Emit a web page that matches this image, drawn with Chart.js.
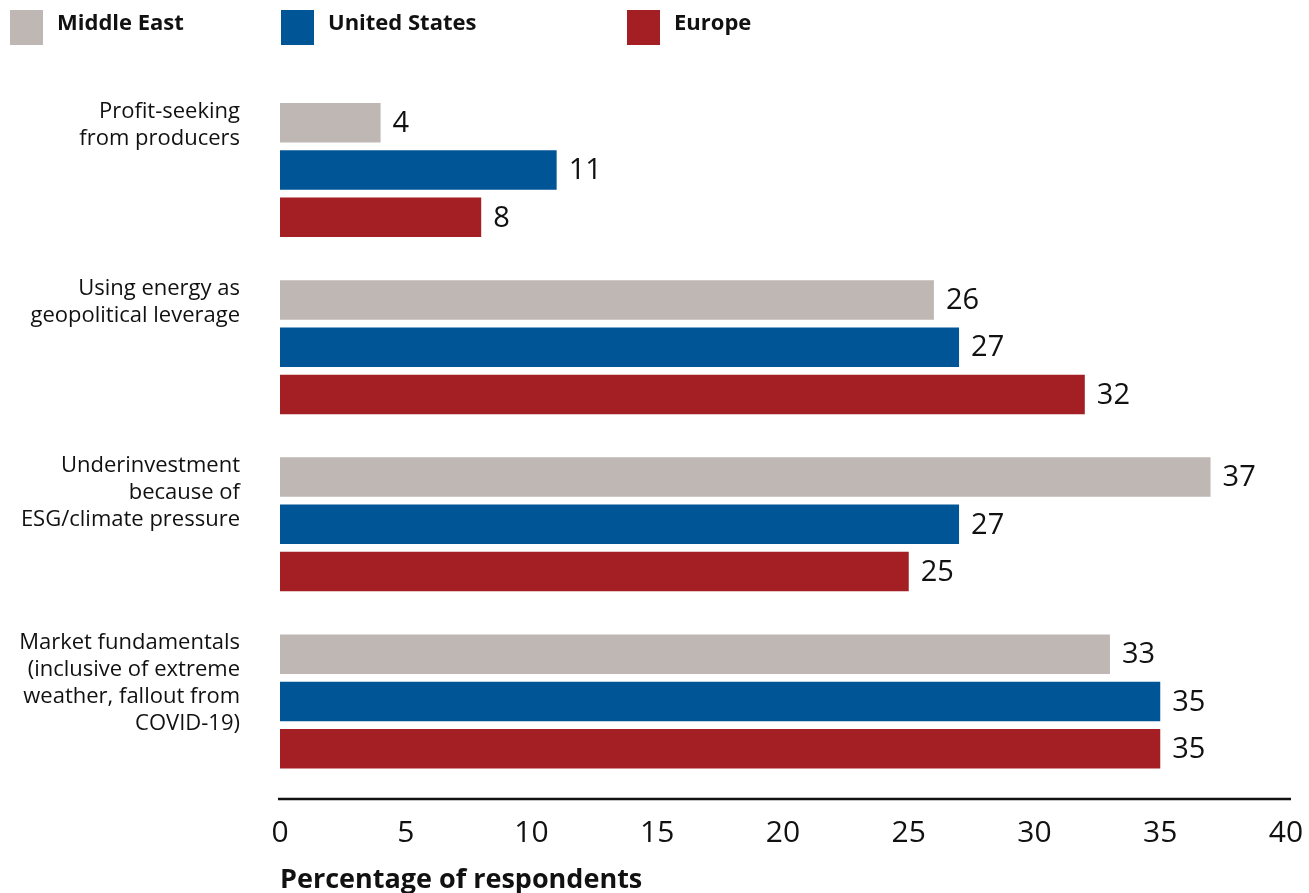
<!DOCTYPE html>
<html>
<head>
<meta charset="utf-8">
<script src="https://cdn.jsdelivr.net/npm/chart.js@4.4.1/dist/chart.umd.min.js"></script>
<style>
html,body{margin:0;padding:0;background:#fff;}
#wrap{width:1309px;height:893px;position:relative;}
</style>
</head>
<body>
<div id="wrap"><canvas id="c" width="1309" height="893"></canvas></div>
<script>
const categories = [
  ["Profit-seeking", "from producers"],
  ["Using energy as", "geopolitical leverage"],
  ["Underinvestment", "because of", "ESG/climate pressure"],
  ["Market fundamentals", "(inclusive of extreme", "weather, fallout from", "COVID-19)"]
];
const seriesNames = ["Middle East", "United States", "Europe"];
const middleEast = [4, 26, 37, 33];
const unitedStates = [11, 27, 27, 35];
const europe = [8, 32, 25, 35];
const xTicks = [0, 5, 10, 15, 20, 25, 30, 35, 40];

const colors = ["#bfb7b3", "#005596", "#a31f24"];
const FONT = "'Open Sans', 'Noto Sans', sans-serif";

// pad labels to 4 lines so they align at the top of each group
const paddedLabels = categories.map(l => { const a = l.slice(); while (a.length < 4) a.push(""); return a; });

const legendPlugin = {
  id: 'customLegend',
  afterDraw(chart) {
    const ctx = chart.ctx;
    const xs = [10, 281, 627];
    ctx.save();
    chart.data.datasets.forEach((ds, i) => {
      ctx.fillStyle = ds.backgroundColor;
      ctx.fillRect(xs[i], 10, 33, 35);
      ctx.fillStyle = "#111";
      ctx.font = "bold 22px " + FONT;
      ctx.textBaseline = "middle";
      ctx.textAlign = "left";
      ctx.fillText(ds.label, xs[i] + 47, 24);
    });
    ctx.restore();
  }
};

const valuePlugin = {
  id: 'valueLabels',
  afterDatasetsDraw(chart) {
    const ctx = chart.ctx;
    ctx.save();
    ctx.font = "29px " + FONT;
    ctx.fillStyle = "#111";
    ctx.textBaseline = "middle";
    ctx.textAlign = "left";
    chart.data.datasets.forEach((ds, i) => {
      chart.getDatasetMeta(i).data.forEach((bar, j) => {
        ctx.fillText(String(ds.data[j]), bar.x + 12, bar.y + 1);
      });
    });
    ctx.restore();
  }
};

const axisLinePlugin = {
  id: 'axisLine',
  afterDraw(chart) {
    const ctx = chart.ctx;
    const a = chart.chartArea;
    ctx.save();
    ctx.strokeStyle = "#111";
    ctx.lineWidth = 2.5;
    ctx.beginPath();
    ctx.moveTo(a.left - 2, a.bottom + 9);
    ctx.lineTo(a.right + 5, a.bottom + 9);
    ctx.stroke();
    ctx.restore();
  }
};

new Chart(document.getElementById('c'), {
  type: 'bar',
  data: {
    labels: paddedLabels,
    datasets: [
      { label: seriesNames[0], data: middleEast, backgroundColor: colors[0] },
      { label: seriesNames[1], data: unitedStates, backgroundColor: colors[1] },
      { label: seriesNames[2], data: europe, backgroundColor: colors[2] }
    ]
  },
  options: {
    indexAxis: 'y',
    responsive: false,
    animation: false,
    devicePixelRatio: 1,
    categoryPercentage: 0.80,
    barPercentage: 0.835,
    layout: { padding: { top: 81.5, right: 23, left: 0, bottom: 0 } },
    plugins: { legend: { display: false }, tooltip: { enabled: false } },
    scales: {
      x: {
        type: 'linear',
        min: xTicks[0],
        max: xTicks[xTicks.length - 1],
        afterBuildTicks: s => { s.ticks = xTicks.map(v => ({ value: v })); },
        afterFit: s => { s.height = 103; s.paddingLeft = 0; s.paddingRight = 0; },
        grid: { display: false, drawTicks: false },
        border: { display: false },
        ticks: { color: "#111", font: { family: FONT, size: 30 }, padding: 25 },
        title: {
          display: true,
          text: "Percentage of respondents",
          align: 'start',
          color: "#111",
          font: { family: FONT, size: 27, weight: 'bold' },
          padding: { top: 0, bottom: -4 }
        }
      },
      y: {
        afterFit: s => { s.width = 280; s.paddingTop = 0; s.paddingBottom = 0; },
        grid: { display: false, drawTicks: false },
        border: { display: false },
        ticks: {
          color: "#111",
          font: { family: FONT, size: 22, lineHeight: 1.23 },
          padding: 40,
          labelOffset: -18,
          autoSkip: false
        }
      }
    }
  },
  plugins: [legendPlugin, valuePlugin, axisLinePlugin]
});
</script>
</body>
</html>
